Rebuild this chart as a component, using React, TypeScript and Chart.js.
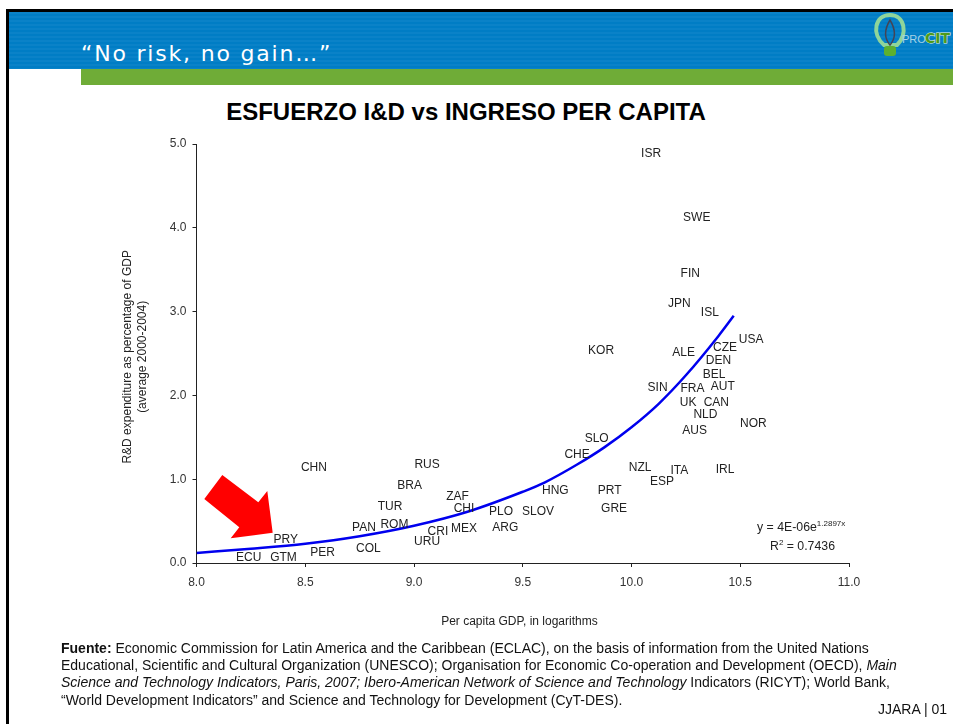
import React, { useEffect, useRef } from "react";
import { Chart, registerables } from "chart.js";

Chart.register(...registerables);

const countries = ["ISR","SWE","FIN","JPN","ISL","USA","KOR","ALE","CZE","DEN","BEL","SIN","FRA","AUT","UK","CAN","NLD","AUS","NOR","SLO","CHE","NZL","ITA","IRL","ESP","HNG","PRT","GRE","SLOV","PLO","ARG","ZAF","CHI","MEX","TUR","RUS","BRA","CHN","PAN","ROM","CRI","URU","COL","PER","PRY","GTM","ECU"];
const gdpLog = [10.09,10.30,10.27,10.22,10.36,10.55,9.86,10.24,10.43,10.40,10.38,10.12,10.28,10.42,10.26,10.39,10.34,10.29,10.56,9.84,9.75,10.04,10.22,10.43,10.14,9.65,9.90,9.92,9.57,9.40,9.42,9.20,9.23,9.23,8.89,9.06,8.98,8.54,8.77,8.91,9.11,9.06,8.79,8.58,8.41,8.40,8.24];
const rdShare = [4.90,4.13,3.46,3.11,3.00,2.68,2.54,2.52,2.58,2.43,2.26,2.10,2.09,2.12,1.92,1.93,1.78,1.59,1.67,1.50,1.30,1.15,1.11,1.12,0.98,0.87,0.87,0.66,0.63,0.62,0.43,0.80,0.66,0.42,0.68,1.19,0.94,1.15,0.43,0.47,0.39,0.27,0.18,0.13,0.29,0.07,0.07];

const trendX = [8.0,8.25,8.5,8.75,9.0,9.25,9.5,9.6,9.75,9.875,10.0,10.125,10.25,10.4,10.47];
const trendY = [0.12,0.17,0.23,0.32,0.445,0.615,0.85,0.96,1.175,1.38,1.62,1.90,2.24,2.71,2.95];

const labelPlugin = {
  id: "countryLabels",
  afterDatasetsDraw(chart: any) {
    const { ctx, scales } = chart;
    ctx.save();
    ctx.font = '12px "Liberation Sans"';
    ctx.fillStyle = "#222";
    ctx.textAlign = "center";
    ctx.textBaseline = "middle";
    countries.forEach((c, i) => {
      ctx.fillText(c, scales.x.getPixelForValue(gdpLog[i]), scales.y.getPixelForValue(rdShare[i]) + 1);
    });
    ctx.restore();
  },
};

const abs = (left: number, top: number, extra: any = {}) => ({
  position: "absolute", left, top, whiteSpace: "nowrap", ...extra,
}) as React.CSSProperties;

export default function App() {
  const ref = useRef<HTMLCanvasElement>(null);
  useEffect(() => {
    document.body.style.margin = "0";
    const tickFont = { family: '"Liberation Sans"', size: 12 };
    const titleFont = { family: '"Liberation Sans"', size: 12 };
    const chart = new Chart(ref.current!, {
      type: "scatter",
      data: {
        datasets: [
          {
            label: "R&D",
            data: gdpLog.map((x, i) => ({ x, y: rdShare[i] })),
            pointRadius: 0,
            showLine: false,
          },
          {
            label: "Trend",
            data: trendX.map((x, i) => ({ x, y: trendY[i] })),
            showLine: true,
            borderColor: "#0000ee",
            borderWidth: 2.5,
            pointRadius: 0,
            cubicInterpolationMode: "monotone",
          },
        ],
      } as any,
      plugins: [labelPlugin],
      options: {
        responsive: false,
        animation: false,
        layout: { padding: { left: 0, top: 144, right: 104, bottom: 0 } },
        plugins: { legend: { display: false }, tooltip: { enabled: false }, title: { display: false } },
        scales: {
          x: {
            type: "linear",
            min: 8,
            max: 11,
            afterFit: (s: any) => { s.height = 161; },
            ticks: { stepSize: 0.5, color: "#333", font: tickFont, padding: 8, maxRotation: 0, callback: (v: any) => Number(v).toFixed(1) },
            grid: { drawOnChartArea: false, color: "#222", tickLength: 4, lineWidth: 1 },
            border: { color: "#222" },
            title: { display: true, text: "Per capita GDP, in logarithms\u00a0\u00a0", color: "#222", font: titleFont, padding: { top: 95, bottom: 95 } },
          },
          y: {
            type: "linear",
            min: 0,
            max: 5,
            afterFit: (s: any) => { s.width = 196.5; },
            ticks: { stepSize: 1, color: "#333", font: tickFont, padding: 6, callback: (v: any) => Number(v).toFixed(1) },
            grid: { drawOnChartArea: false, color: "#222", tickLength: 4, lineWidth: 1 },
            border: { color: "#222" },
            title: { display: true, text: ["R&D expenditure as percentage of GDP\u00a0\u00a0", "(average 2000-2004)\u00a0\u00a0"], color: "#222", font: { ...titleFont, lineHeight: 1.25 }, padding: { top: 120.5, bottom: 0 } },
          },
        },
      } as any,
    });
    return () => chart.destroy();
  }, []);

  const foot: React.CSSProperties = { fontFamily: '"Liberation Sans"', fontSize: 14, color: "#111", lineHeight: "16px" };
  return (
    <div style={{ position: "absolute", left: 0, top: 0, width: 953, height: 724, overflow: "hidden", background: "#fff" }}>
      <div style={abs(6, 9, { width: 947, height: 3, background: "#000" })} />
      <div style={abs(6, 9, { width: 2.5, height: 715, background: "#000" })} />
      <div style={abs(9, 12, { width: 944, height: 57, background: "repeating-linear-gradient(#0a82c8 0 2px,#007dc5 2px 4px)" })} />
      <div style={abs(6, 12, { width: 3, height: 57, background: "#000" })} />
      <div style={abs(81, 69, { width: 872, height: 16, background: "#6fac37" })} />
      <div style={abs(81, 41, { fontFamily: '"DejaVu Sans"', fontSize: 22, color: "#fff", letterSpacing: 1.8 })}>“No risk, no gain…”</div>
      <svg style={abs(870, 10)} width={83} height={50} viewBox="870 10 83 50">
        <path d="M884 45 C871 34 875 15 890 15 C905 15 908 34 897 45 Z" fill="none" stroke="#8fd59a" strokeWidth={4} />
        <path d="M890 20 C884 30 884 38 890 45 C896 38 896 30 890 20 Z" fill="none" stroke="#445" strokeWidth={1.5} />
        <rect x={884} y={46} width={12} height={10} rx={3} fill="#5cb030" />
        <text x={902} y={43} fontFamily="Liberation Sans" fontSize={11} fill="#a6d3e6">PRO</text>
        <text x={925} y={43} fontFamily="DejaVu Sans" fontWeight="bold" fontSize={14} fill="#4f9a1a" stroke="#e6f6e0" strokeWidth={1} paintOrder="stroke">CIT</text>
      </svg>
      <div style={abs(0, 98, { width: 932, textAlign: "center", fontFamily: '"Liberation Sans"', fontWeight: "bold", fontSize: 24, color: "#000" })}>ESFUERZO I&amp;D vs INGRESO PER CAPITA</div>
      <canvas ref={ref} width={953} height={724} style={abs(0, 0)} />
      <svg style={abs(0, 0)} width={953} height={724}>
        <polygon points="222.3,475 258.3,502.3 267.3,491 272.7,532.7 230.7,538.3 239.3,527.3 204.3,499" fill="#ff0000" />
      </svg>
      <div style={abs(757, 519, { fontFamily: '"Liberation Sans"', fontSize: 12.3, color: "#222", lineHeight: "16px" })}>y = 4E-06e<sup style={{ fontSize: 8, lineHeight: 0 }}>1.2897x</sup></div>
      <div style={abs(770, 538, { fontFamily: '"Liberation Sans"', fontSize: 12.3, color: "#222", lineHeight: "16px" })}>R<sup style={{ fontSize: 8, lineHeight: 0 }}>2</sup> = 0.7436</div>
      <div style={abs(61, 640, foot)}><b>Fuente:</b> Economic Commission for Latin America and the Caribbean (ECLAC), on the basis of information from the United Nations</div>
      <div style={abs(61, 657, foot)}>Educational, Scientific and Cultural Organization (UNESCO); Organisation for Economic Co-operation and Development (OECD), <i>Main</i></div>
      <div style={abs(61, 674, foot)}><i>Science and Technology Indicators, Paris, 2007; Ibero-American Network of Science and Technology</i> Indicators (RICYT); World Bank,</div>
      <div style={abs(61, 692, foot)}>“World Development Indicators” and Science and Technology for Development (CyT-DES).</div>
      <div style={abs(878, 701, { ...foot, fontSize: 14 })}>JJARA | 01</div>
    </div>
  );
}
